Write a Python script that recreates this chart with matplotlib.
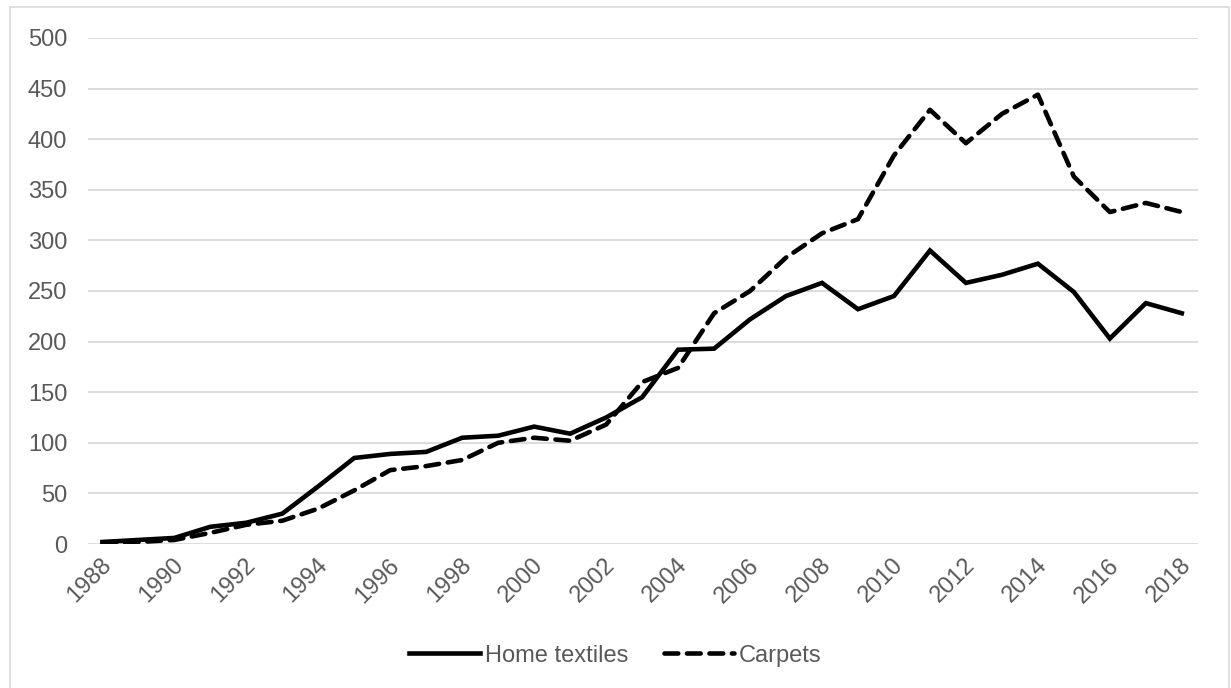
import matplotlib.pyplot as plt
import matplotlib.transforms as mtransforms
from matplotlib.patches import Rectangle

plt.rcParams['font.family'] = ['Liberation Sans', 'DejaVu Sans']

# Data
years = list(range(1988, 2019))
home_textiles = [2, 4, 6, 17, 21, 30, 57, 85, 89, 91, 105, 107, 116, 109, 125, 145,
                 192, 193, 222, 245, 258, 232, 245, 290, 258, 266, 277, 249, 203, 238, 228]
carpets = [1, 2, 4, 11, 19, 23, 35, 53, 73, 77, 83, 100, 105, 102, 118, 160,
           174, 228, 250, 283, 307, 321, 384, 429, 396, 425, 444, 363, 328, 337, 328]
tick_years = list(range(1988, 2019, 2))
y_ticks = list(range(0, 501, 50))

txt = '#595959'
fs = 17

fig = plt.figure(figsize=(12.31, 6.88), dpi=100)
ax = fig.add_axes([0.0715, 0.2093, 0.9017, 0.7355])

ax.plot(years, home_textiles, color='black', lw=3.3, solid_joinstyle='miter',
        label='Home textiles')
ax.plot(years, carpets, color='black', lw=3.3, dashes=(3, 1.9),
        dash_capstyle='round', label='Carpets')

ax.set_xlim(1987.6, 2018.45)
ax.set_ylim(0, 500)
ax.set_yticks(y_ticks)
ax.set_xticks(tick_years)
ax.set_xticklabels([str(y) for y in tick_years], rotation=45, ha='right',
                   va='center', rotation_mode='anchor')
ax.tick_params(axis='both', length=0, labelsize=fs, colors=txt)
ax.tick_params(axis='x', pad=13)
ax.tick_params(axis='y', pad=15)
# nudge year labels a little to the right, like the original
shift = mtransforms.ScaledTranslation(6 / 100, 0, fig.dpi_scale_trans)
for lab in ax.get_xticklabels():
    lab.set_transform(lab.get_transform() + shift)
ax.grid(axis='y', color='#d9d9d9', lw=1.3)
ax.set_axisbelow(True)
for s in ax.spines.values():
    s.set_visible(False)

leg = fig.legend(loc='center', bbox_to_anchor=(0.5, 0.047), ncol=2, frameon=False,
                 fontsize=fs, handlelength=3.0, columnspacing=1.5, handletextpad=0.2)
for t in leg.get_texts():
    t.set_color(txt)

# outer chart border
fig.patches.append(Rectangle((10 / 1231, -0.01), 1219 / 1231, 1 - 7 / 688 + 0.01,
                             transform=fig.transFigure, fill=False,
                             edgecolor='#d9d9d9', lw=1.2))

fig.savefig('out.png', dpi=100)
